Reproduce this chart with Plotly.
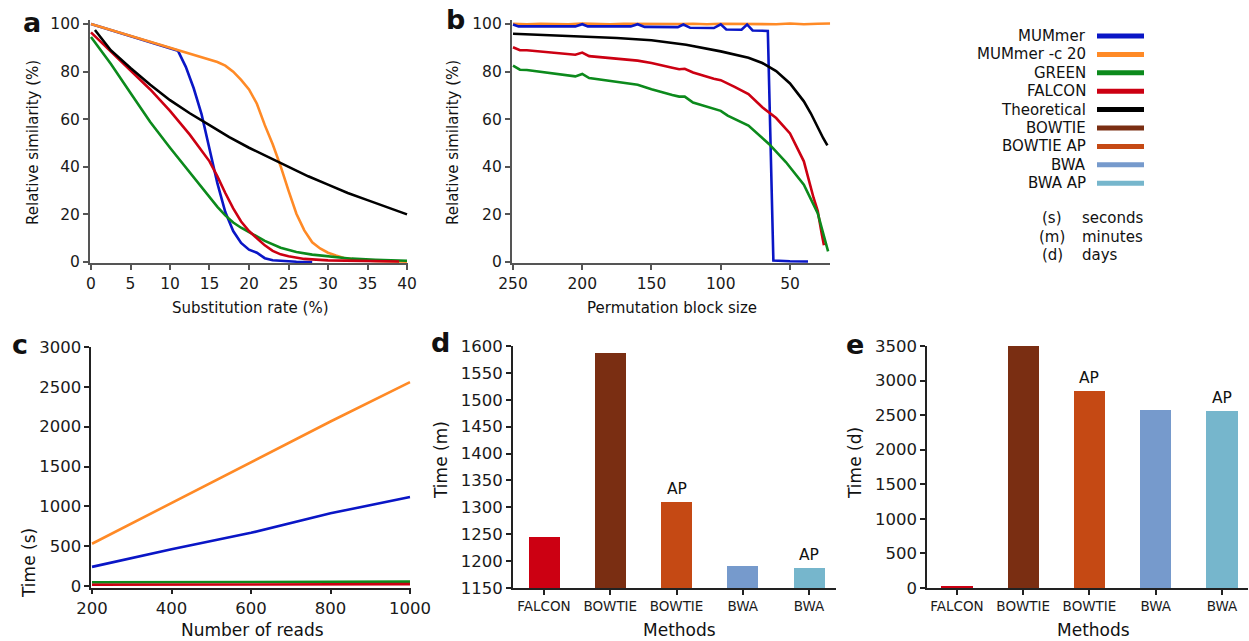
import plotly.graph_objects as go

W, H = 1249, 641
FONT = "DejaVu Sans"

# ---------------- colours ----------------
C_MUM = "#0a16c6"
C_MUMC = "#ff8a26"
C_GREEN = "#0c8a1c"
C_FALCON = "#cc0012"
C_THEO = "#000000"
C_BOWTIE = "#7a2e12"
C_BOWTIEAP = "#c54914"
C_BWA = "#769acc"
C_BWAAP = "#76b6cc"

# ---------------- panel a data ----------------
a_mum_x = [0, 5, 10, 11, 12, 13, 14, 15, 16, 17, 18, 19, 20, 21, 22, 23, 24, 25, 26, 28]
a_mum_y = [100, 95, 90, 88.8, 82, 73, 62, 48, 33, 21, 13, 8, 5.2, 3.9, 1.6, 0.7, 0.4, 0.2, 0.1, 0.0]
a_mumc_x = [0, 5, 10, 12, 15, 16, 17, 18, 19, 20, 21, 22, 23, 24, 25, 26, 27, 28, 29, 30, 31, 32, 34, 36, 40]
a_mumc_y = [100, 95, 90, 88, 85, 84, 82.5, 80, 76.5, 72.5, 66.5, 57.5, 49.5, 40.3, 30, 20.3, 13.3, 8.3, 5.7, 3.9, 2.7, 1.7, 0.8, 0.4, 0.1]
a_green_x = [0, 2.5, 5, 7.5, 10, 12.5, 14, 15, 16, 17, 18, 19, 20, 22, 24, 26, 28, 30, 33, 36, 40]
a_green_y = [94.5, 83.3, 71, 58.8, 48, 37.5, 31.5, 27.2, 23.2, 19.6, 16.6, 14.4, 12.6, 8.9, 6.0, 4.2, 3.1, 2.4, 1.4, 0.9, 0.5]
a_falcon_x = [0, 2.5, 5, 7.5, 10, 12.5, 15, 16, 17, 18, 19, 20, 21, 22, 23, 24, 25, 27, 30, 35, 39]
a_falcon_y = [96.5, 88.5, 80.5, 72.5, 63.5, 53.5, 42.3, 36, 29, 22.5, 17, 13, 10, 7, 4.7, 3.2, 2.4, 1.3, 0.7, 0.3, 0.2]
a_theo_x = [0.5, 2.5, 5, 7.5, 10, 12.5, 15, 17.5, 20, 22.5, 25, 27.5, 30, 32.5, 35, 37.5, 40]
a_theo_y = [97.5, 89, 81.5, 74.5, 68, 62.5, 57.5, 52.5, 48, 44, 39.8, 36, 32.5, 29, 26, 23, 20]

# ---------------- panel b data ----------------
b_mum_x = [250, 246, 240, 205, 200, 196, 165, 160, 155, 131, 127, 122, 105, 100, 96, 85, 81, 77, 66, 62, 50, 37]
b_mum_y = [99.8, 99.0, 99.0, 99.0, 99.9, 99.0, 99.0, 99.9, 98.8, 98.7, 99.8, 98.4, 98.3, 99.9, 97.7, 97.6, 99.8, 97.3, 97.1, 0.6, 0.3, 0.2]
b_mumc_x = [250, 240, 230, 220, 210, 200, 190, 180, 170, 160, 150, 140, 130, 120, 110, 100, 90, 80, 70, 60, 50, 40, 30, 21]
b_mumc_y = [100.1, 99.9, 100.1, 100.0, 99.9, 100.2, 100.0, 99.9, 100.1, 100.0, 100.2, 99.9, 100.0, 100.1, 99.9, 100.1, 100.0, 99.9, 100.1, 99.9, 100.2, 99.9, 100.1, 100.2]
b_green_x = [250, 245, 240, 205, 200, 195, 160, 150, 135, 130, 126, 120, 100, 95, 80, 65, 53, 40, 30, 22.5]
b_green_y = [82.5, 80.8, 80.7, 78.0, 79.0, 77.3, 74.5, 72.6, 70.2, 69.5, 69.5, 67.0, 63.5, 61.5, 57.3, 49.5, 42.0, 32.5, 20.5, 4.5]
b_falcon_x = [250, 245, 240, 205, 200, 195, 160, 150, 135, 130, 126, 120, 105, 100, 90, 80, 70, 60, 50, 40, 33, 30, 27, 25.5]
b_falcon_y = [90.2, 89.0, 89.0, 87.1, 88.0, 86.5, 84.6, 83.6, 81.6, 81.0, 81.2, 79.6, 77.0, 76.4, 73.6, 70.6, 65.0, 60.5, 54.0, 42.3, 27.0, 21.5, 11.5, 7.0]
b_theo_x = [250, 225, 200, 175, 150, 125, 100, 90, 80, 70, 60, 50, 40, 35, 30, 26, 23]
b_theo_y = [95.9, 95.4, 94.8, 94.1, 93.2, 91.3, 88.5, 87.3, 85.8, 83.6, 80.2, 75.0, 67.5, 62.5, 56.5, 52.0, 49.0]

# ---------------- panel c data ----------------
c_reads = [200, 400, 600, 800, 1000]
c_mumc = [530, 1040, 1555, 2065, 2560]
c_mum = [240, 460, 668, 912, 1118]
c_green = [45, 47, 50, 52, 55]
c_falcon = [15, 17, 19, 21, 23]

# ---------------- panels d & e data ----------------
method_labels = ["FALCON", "BOWTIE", "BOWTIE", "BWA", "BWA"]
method_colors = [C_FALCON, C_BOWTIE, C_BOWTIEAP, C_BWA, C_BWAAP]
method_ap = ["", "", "AP", "", "AP"]
d_minutes = [1245, 1587, 1310, 1190, 1187]
e_days = [20, 3500, 2850, 2570, 2566]

# ---------------- legend ----------------
legend_names = ["MUMmer", "MUMmer -c 20", "GREEN", "FALCON", "Theoretical",
                "BOWTIE", "BOWTIE AP", "BWA", "BWA AP"]
legend_colors = [C_MUM, C_MUMC, C_GREEN, C_FALCON, C_THEO, C_BOWTIE, C_BOWTIEAP, C_BWA, C_BWAAP]
unit_abbr = ["(s)", "(m)", "(d)"]
unit_names = ["seconds", "minutes", "days"]


def span(v0, p0, v1, p1, r0, r1):
    s = (p1 - p0) / (v1 - v0)
    return p0 + (r0 - v0) * s, p0 + (r1 - v0) * s


def xdom(v0, p0, v1, p1, r0, r1):
    a, b = span(v0, p0, v1, p1, r0, r1)
    a, b = sorted([a, b])
    return [a / W, b / W]


def ydom(v0, p0, v1, p1, r0, r1):
    a, b = span(v0, p0, v1, p1, r0, r1)
    return sorted([1 - a / H, 1 - b / H])


fig = go.Figure()


def line(x, y, color, xa, ya, w=2.6):
    fig.add_trace(go.Scatter(x=x, y=y, mode="lines", line=dict(color=color, width=w),
                             xaxis=xa, yaxis=ya, showlegend=False, hoverinfo="skip"))


# panel a
line(a_mum_x, a_mum_y, C_MUM, "x", "y")
line(a_mumc_x, a_mumc_y, C_MUMC, "x", "y")
line(a_green_x, a_green_y, C_GREEN, "x", "y")
line(a_falcon_x, a_falcon_y, C_FALCON, "x", "y")
line(a_theo_x, a_theo_y, C_THEO, "x", "y")
# panel b
line(b_mumc_x, b_mumc_y, C_MUMC, "x2", "y2")
line(b_mum_x, b_mum_y, C_MUM, "x2", "y2")
line(b_theo_x, b_theo_y, C_THEO, "x2", "y2")
line(b_falcon_x, b_falcon_y, C_FALCON, "x2", "y2")
line(b_green_x, b_green_y, C_GREEN, "x2", "y2")
# panel c
line(c_reads, c_mumc, C_MUMC, "x3", "y3")
line(c_reads, c_mum, C_MUM, "x3", "y3")
line(c_reads, c_green, C_GREEN, "x3", "y3")
line(c_reads, c_falcon, C_FALCON, "x3", "y3")
# panel d & e bars
pos = list(range(len(method_labels)))
fig.add_trace(go.Bar(x=pos, y=d_minutes, marker=dict(color=method_colors, line=dict(width=0)),
                     width=0.47, xaxis="x4", yaxis="y4", showlegend=False, hoverinfo="skip"))
fig.add_trace(go.Bar(x=pos, y=e_days, marker=dict(color=method_colors, line=dict(width=0)),
                     width=0.47, xaxis="x5", yaxis="y5", showlegend=False, hoverinfo="skip"))

AX_COL = "#555555"


def axis(domain, rng, tickvals=None, ticktext=None, anchor=None, size=15.5, col=AX_COL):
    d = dict(domain=domain, range=rng, showgrid=False, zeroline=False, showline=True,
             linecolor=col, linewidth=1.5, ticks="outside", ticklen=5, tickwidth=1.5,
             tickcolor=col, tickfont=dict(family=FONT, size=size, color="#1a1a1a"),
             anchor=anchor, fixedrange=True, automargin=False)
    if tickvals is not None:
        d["tickmode"] = "array"
        d["tickvals"] = tickvals
    if ticktext is not None:
        d["ticktext"] = ticktext
    return d


ra_x = [-0.15, 40.15]
ra_y = [-0.6, 101.5]
rb_x = [251, 21]
rc_x = [198, 1002]
rc_y = [-20, 3000]
rd_x = [-0.47, 4.4]
rd_y = [1150, 1600]
re_x = [-0.453, 4.39]
re_y = [0, 3500]

LOW = "#222222"
fig.update_layout(
    xaxis=axis(xdom(0, 91, 40, 407, *ra_x), ra_x, list(range(0, 41, 5)), anchor="y"),
    yaxis=axis(ydom(0, 262, 100, 24, *ra_y), ra_y, list(range(0, 101, 20)), anchor="x"),
    xaxis2=axis(xdom(250, 513, 50, 790, *rb_x), rb_x, [250, 200, 150, 100, 50], anchor="y2"),
    yaxis2=axis(ydom(0, 262, 100, 24, *ra_y), ra_y, list(range(0, 101, 20)), anchor="x2"),
    xaxis3=axis(xdom(200, 92, 1000, 410, *rc_x), rc_x, [200, 400, 600, 800, 1000], anchor="y3", size=16.5, col=LOW),
    yaxis3=axis(ydom(0, 586, 3000, 347, *rc_y), rc_y, list(range(0, 3001, 500)), anchor="x3", size=16.5, col=LOW),
    xaxis4=axis(xdom(0, 544, 4, 809, *rd_x), rd_x, pos, method_labels, anchor="y4", size=13.5, col=LOW),
    yaxis4=axis(ydom(1150, 588, 1600, 346, *rd_y), rd_y, list(range(1150, 1601, 50)), anchor="x4", size=16.5, col=LOW),
    xaxis5=axis(xdom(0, 957, 4, 1222, *re_x), re_x, pos, method_labels, anchor="y5", size=13.5, col=LOW),
    yaxis5=axis(ydom(0, 588, 3500, 346, *re_y), re_y, list(range(0, 3501, 500)), anchor="x5", size=16.5, col=LOW),
)

ann = []


def text_px(t, x, y, size=15, xanchor="center", yanchor="middle", angle=0, bold=False):
    ann.append(dict(text=("<b>%s</b>" % t) if bold else t, x=x / W, y=1 - y / H,
                    xref="paper", yref="paper", xanchor=xanchor, yanchor=yanchor,
                    showarrow=False, textangle=angle,
                    font=dict(family=FONT, size=size, color="#111111")))


# axis titles
text_px("Substitution rate (%)", 250, 308)
text_px("Relative similarity (%)", 33, 143, angle=-90)
text_px("Permutation block size", 672, 308)
text_px("Relative similarity (%)", 453, 143, angle=-90)
text_px("Number of reads", 252, 630, size=17)
text_px("Time (s)", 29, 563, size=17, angle=-90)
text_px("Methods", 679, 630, size=17)
text_px("Time (m)", 441, 460, size=17, angle=-90)
text_px("Methods", 1093, 630, size=17)
text_px("Time (d)", 855, 463, size=17, angle=-90)

# panel letters
text_px("a", 32, 22, size=27, bold=True)
text_px("b", 455, 20, size=27, bold=True)
text_px("c", 20, 344, size=27, bold=True)
text_px("d", 440, 342, size=27, bold=True)
text_px("e", 855, 344, size=27, bold=True)

# AP labels above bars
for i, lab in enumerate(method_ap):
    if lab:
        ann.append(dict(text=lab, x=pos[i], y=d_minutes[i], xref="x4", yref="y4",
                        xanchor="center", yanchor="bottom", yshift=2, showarrow=False,
                        font=dict(family=FONT, size=15.5, color="#111111")))
        ann.append(dict(text=lab, x=pos[i], y=e_days[i], xref="x5", yref="y5",
                        xanchor="center", yanchor="bottom", yshift=2, showarrow=False,
                        font=dict(family=FONT, size=15.5, color="#111111")))

# legend
shapes = []
row_y = [36, 54.4, 72.8, 91.2, 109.6, 128, 146.4, 164.8, 183.2]
for name, col, yy in zip(legend_names, legend_colors, row_y):
    text_px(name, 1088, yy, xanchor="right")
    shapes.append(dict(type="line", xref="paper", yref="paper",
                       x0=1097 / W, x1=1144 / W, y0=1 - yy / H, y1=1 - yy / H,
                       line=dict(color=col, width=5)))
for ab, nm, yy in zip(unit_abbr, unit_names, [218, 237, 255]):
    text_px(ab, 1052, yy)
    text_px(nm, 1080, yy, xanchor="left")

fig.update_layout(
    width=W, height=H, autosize=False,
    margin=dict(l=0, r=0, t=0, b=0, pad=0),
    paper_bgcolor="white", plot_bgcolor="white",
    annotations=ann, shapes=shapes, showlegend=False,
    font=dict(family=FONT, size=15, color="#111111"),
    bargap=0,
)

fig.write_html(
    "out.html",
    config={"displayModeBar": False},
    post_script="document.body.style.margin='0px';document.body.style.padding='0px';document.body.style.overflow='hidden';",
)
